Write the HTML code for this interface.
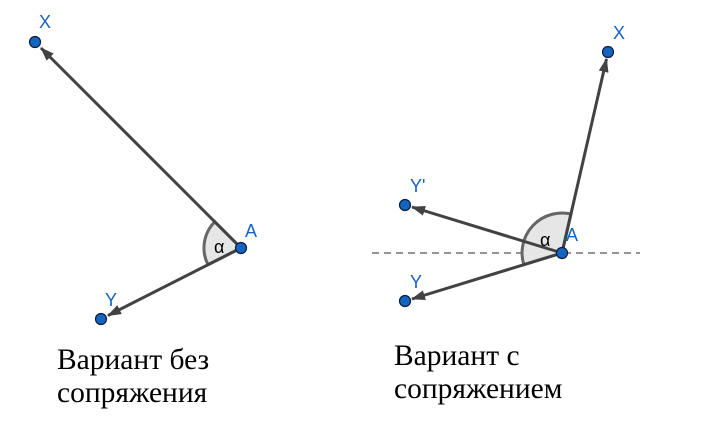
<!DOCTYPE html>
<html><head><meta charset="utf-8"><style>
html,body{margin:0;padding:0;background:#fff;}
svg{display:block;}
.lbl{font-family:"Liberation Sans",sans-serif;font-size:18px;fill:#1565c0;}
.cap{font-family:"Liberation Serif",serif;font-size:29.5px;fill:#000;}
.ray{stroke:#424242;stroke-width:3;fill:none;}
.pt{fill:#1565c0;stroke:#0d1b3a;stroke-width:1.2;}
.sec{fill:#e6e6e6;stroke:#666;stroke-width:3;}
</style></head><body>
<svg width="701" height="444" viewBox="0 0 701 444">
<defs>
<marker id="ah" markerWidth="14" markerHeight="10" refX="13" refY="5" orient="auto" markerUnits="userSpaceOnUse" viewBox="0 0 14 10">
<path d="M0,0 L14,5 L0,10 Z" fill="#424242"/></marker>
</defs>
<g>
<path class="sec" d="M241,248 L214.8,221.8 A37,37 0 0 0 208,264.7 Z"/>
<line class="ray" x1="241" y1="248" x2="41" y2="48" marker-end="url(#ah)"/>
<line class="ray" x1="241" y1="248" x2="108" y2="315.5" marker-end="url(#ah)"/>
<circle class="pt" cx="35" cy="42" r="5.5"/>
<circle class="pt" cx="101" cy="319" r="5.5"/>
<circle class="pt" cx="241" cy="248" r="5.5"/>
<text class="lbl" x="39" y="28">X</text>
<text class="lbl" x="105" y="306">Y</text>
<text class="lbl" x="245" y="237">A</text>
<text x="214" y="253" font-family="Liberation Sans,sans-serif" font-size="18" fill="#000">α</text>
<text class="cap" x="57" y="369">Вариант без</text>
<text class="cap" x="57" y="402">сопряжения</text>
</g>
<g>
<line x1="372" y1="253" x2="640" y2="253" stroke="#555" stroke-width="1.2" stroke-dasharray="7,5"/>
<path class="sec" d="M562,253 L570.9,214 A40,40 0 0 0 523.8,264.7 Z"/>
<line class="ray" x1="562" y1="253" x2="606.5" y2="59" marker-end="url(#ah)"/>
<line class="ray" x1="562" y1="253" x2="412" y2="207" marker-end="url(#ah)"/>
<line class="ray" x1="562" y1="253" x2="412" y2="299" marker-end="url(#ah)"/>
<circle class="pt" cx="608" cy="52" r="5.5"/>
<circle class="pt" cx="405" cy="205" r="5.5"/>
<circle class="pt" cx="405" cy="301" r="5.5"/>
<circle class="pt" cx="562" cy="253" r="5.5"/>
<text class="lbl" x="613" y="39">X</text>
<text class="lbl" x="410" y="192">Y'</text>
<text class="lbl" x="410" y="288">Y</text>
<text class="lbl" x="566" y="241">A</text>
<text x="540" y="246" font-family="Liberation Sans,sans-serif" font-size="18" fill="#000">α</text>
<text class="cap" x="394" y="365">Вариант с</text>
<text class="cap" x="394" y="398">сопряжением</text>
</g>
</svg>
</body></html>
